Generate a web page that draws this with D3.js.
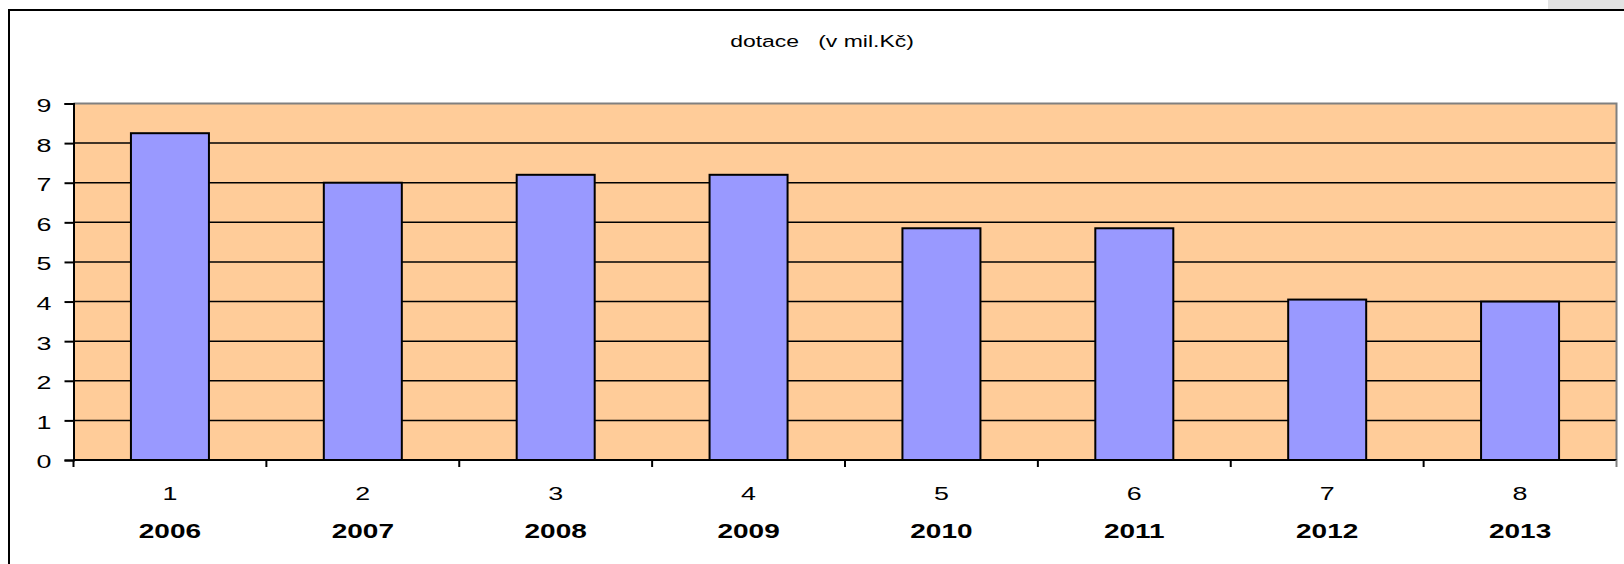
<!DOCTYPE html>
<html><head><meta charset="utf-8">
<script src="https://cdn.jsdelivr.net/npm/d3@7"></script>
<style>body{margin:0;background:#fff}svg{display:block}</style>
</head><body>
<script>
const categories = ["1","2","3","4","5","6","7","8"];
const years = ["2006","2007","2008","2009","2010","2011","2012","2013"];
const values = [8.25, 7.0, 7.2, 7.2, 5.85, 5.85, 4.05, 4.0];
const yTicks = [0,1,2,3,4,5,6,7,8,9];
const title = "dotace\u00a0\u00a0\u00a0(v mil.Kč)";

const W = 1624, H = 564, SX = 1.45;
const svg = d3.select("body").append("svg").attr("width", W).attr("height", H);
const font = "'Liberation Sans', Arial, sans-serif";

// corner grey
svg.append("rect").attr("x",1548).attr("y",0).attr("width",W-1548).attr("height",10).attr("fill","#e3e3e3");
// outer frame
svg.append("rect").attr("x",9).attr("y",10).attr("width",1700).attr("height",700)
  .attr("fill","none").attr("stroke","#000").attr("stroke-width",2);

const x = d3.scaleBand().domain(categories).range([73.5,1616.5]).paddingInner(0).paddingOuter(0);
const y = d3.scaleLinear().domain([0,9]).range([460,103.5]);

svg.append("rect").attr("x",x.range()[0]).attr("y",y(9)).attr("width",x.range()[1]-x.range()[0])
  .attr("height",y(0)-y(9)).attr("fill","#FFCC99");

// gridlines
svg.append("g").selectAll("line").data(yTicks.filter(d=>d>0&&d<9)).join("line")
  .attr("x1",x.range()[0]).attr("x2",x.range()[1]).attr("y1",d=>y(d)).attr("y2",d=>y(d))
  .attr("stroke","#000").attr("stroke-width",1.5);
// plot border top/right grey
svg.append("path").attr("d",`M${x.range()[0]},${y(9)}H${x.range()[1]}V${y(0)}`)
  .attr("fill","none").attr("stroke","#808080").attr("stroke-width",2);

// bars
const bw = 78;
svg.append("g").selectAll("rect").data(values).join("rect")
  .attr("x",(d,i)=>x(categories[i])+x.bandwidth()/2-bw/2).attr("width",bw)
  .attr("y",d=>y(d)).attr("height",d=>y(0)-y(d))
  .attr("fill","#9999FF").attr("stroke","#000").attr("stroke-width",2);

// y axis
const yAxis = d3.axisLeft(y).tickValues(yTicks).tickSize(9).tickPadding(12).tickFormat(d3.format("d"));
const gy = svg.append("g").attr("transform",`translate(${x.range()[0]},0)`).call(yAxis);
gy.select(".domain").attr("stroke","#000").attr("stroke-width",2);
gy.selectAll(".tick line").attr("stroke","#000").attr("stroke-width",2);
gy.selectAll(".tick text").attr("font-family",font).attr("font-size",18.5).attr("fill","#000")
  .attr("x",null).attr("dy",null).attr("dominant-baseline","central").attr("text-anchor","end")
  .attr("transform",`translate(-22,1.5) scale(${SX},1)`);

// x axis
const gx = svg.append("g").attr("transform",`translate(0,${y(0)})`);
gx.append("line").attr("x1",x.range()[0]).attr("x2",x.range()[1]).attr("stroke","#000").attr("stroke-width",2);
const bounds = categories.map(c=>x(c)).concat([x.range()[1]]);
gx.selectAll("line.t").data(bounds).join("line").attr("class","t")
  .attr("x1",d=>d).attr("x2",d=>d).attr("y1",0).attr("y2",7)
  .attr("stroke",(d,i)=>i===bounds.length-1?"#808080":"#000").attr("stroke-width",2);
gx.selectAll("text.n").data(categories).join("text").attr("class","n")
  .attr("transform",d=>`translate(${x(d)+x.bandwidth()/2},40) scale(${SX},1)`)
  .attr("text-anchor","middle").attr("font-family",font).attr("font-size",18.5).text(d=>d);
gx.selectAll("text.yr").data(years).join("text").attr("class","yr")
  .attr("transform",(d,i)=>`translate(${x(categories[i])+x.bandwidth()/2},78) scale(${SX-0.05},1)`)
  .attr("text-anchor","middle").attr("font-family",font).attr("font-weight","bold").attr("font-size",20).text(d=>d);

// title
svg.append("text").attr("transform",`translate(822,47) scale(1.35,1)`).attr("text-anchor","middle")
  .attr("font-family",font).attr("font-size",17).text(title);
</script>
</body></html>
